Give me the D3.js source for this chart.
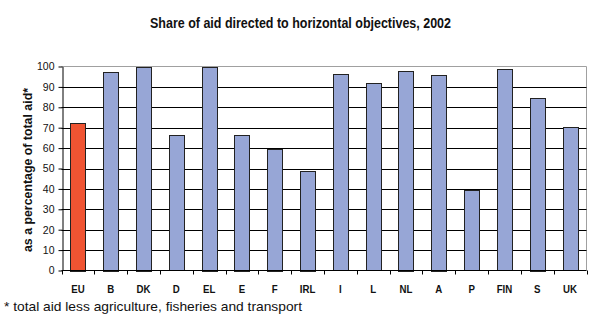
<!DOCTYPE html>
<html><head><meta charset="utf-8">
<script src="https://cdn.jsdelivr.net/npm/d3@7"></script>
<style>
body{margin:0;background:#fff;}
svg{display:block;}
.narrow{font-family:"Liberation Sans Narrow","Arial Narrow","Liberation Sans",Arial,sans-serif;font-weight:bold;}
</style></head>
<body><svg id="c" width="600" height="332"></svg>
<script>
const categories = ["EU","B","DK","D","EL","E","F","IRL","I","L","NL","A","P","FIN","S","UK"];
const values = [72.5,97.4,100,66.3,100,66.6,59.7,48.8,96.2,91.8,97.9,96,39.3,98.7,84.6,70.2];
const highlight = ["EU"];
const yTicks = [0,10,20,30,40,50,60,70,80,90,100];
const title = "Share of aid directed to horizontal objectives, 2002";
const yLabel = "as a percentage of total aid*";
const footnote = "* total aid less agriculture, fisheries and transport";

(function(){
const svg = d3.select("#c");
const pL = 61.5, pR = 586.5, pT = 66.5, pB = 270.5;
const x = d3.scaleBand().domain(categories).range([pL, pR]).paddingInner(0.54).paddingOuter(0.27);
const y = d3.scaleLinear().domain([0,100]).range([pB, pT]);

svg.append("path").attr("d", `M${pL},${pT}H${pR}V${pB}`).attr("fill","none").attr("stroke","#a0a0a0").attr("stroke-width",1);

svg.append("g").selectAll("line").data(yTicks.filter(t => t>0 && t<100)).join("line")
  .attr("x1", pL).attr("x2", pR)
  .attr("y1", d => Math.round(y(d))+0.5).attr("y2", d => Math.round(y(d))+0.5)
  .attr("stroke","#000").attr("stroke-width",1);

svg.append("g").selectAll("rect").data(categories).join("rect")
  .attr("x", d => Math.round(x(d))+0.5)
  .attr("width", Math.round(x.bandwidth()))
  .attr("y", (d,i) => Math.round(y(values[i]))+0.5)
  .attr("height", (d,i) => Math.round(pB - y(values[i])))
  .attr("fill", d => highlight.includes(d) ? "#f05432" : "#97a6d6")
  .attr("stroke","#222").attr("stroke-width",1);

const ya = svg.append("g").attr("transform", `translate(${Math.round(pL)+0.5},0)`)
  .call(d3.axisLeft(y).tickValues(yTicks).tickSize(4).tickSizeOuter(0).tickPadding(4));
ya.select(".domain").attr("stroke","#000");
ya.selectAll(".tick line").attr("stroke","#000");
ya.selectAll("text").attr("font-family","Liberation Sans, Arial, sans-serif").attr("font-size",10.5).attr("fill","#111");

const xa = svg.append("g").attr("transform", `translate(0,${pB})`);
xa.append("line").attr("x1",pL).attr("x2",pR).attr("stroke","#000");
const bounds = d3.range(categories.length+1).map(i => pL + i*(pR-pL)/categories.length);
xa.selectAll("line.tk").data(bounds).join("line").attr("class","tk")
  .attr("x1", d => Math.round(d)+0.5).attr("x2", d => Math.round(d)+0.5).attr("y1",0).attr("y2",4).attr("stroke","#000");
xa.selectAll("text").data(categories).join("text").attr("class","narrow")
  .attr("transform", d => `translate(${x(d)+x.bandwidth()/2},22) scale(0.88,1)`).attr("text-anchor","middle")
  .attr("font-size",11).attr("fill","#111").text(d => d);

svg.append("text").attr("class","narrow").attr("x",150).attr("y",27.5)
  .attr("font-size",14).attr("textLength",301).attr("lengthAdjust","spacingAndGlyphs")
  .attr("fill","#111").text(title);

svg.append("text").attr("class","narrow").attr("transform",`translate(32,252) rotate(-90)`)
  .attr("font-size",12.5).attr("textLength",164).attr("lengthAdjust","spacingAndGlyphs")
  .attr("fill","#111").text(yLabel);

svg.append("text").attr("x",4).attr("y",311).attr("font-family","Liberation Sans, Arial, sans-serif")
  .attr("font-size",13).attr("textLength",298).attr("lengthAdjust","spacingAndGlyphs")
  .attr("fill","#111").text(footnote);
})();
</script></body></html>
